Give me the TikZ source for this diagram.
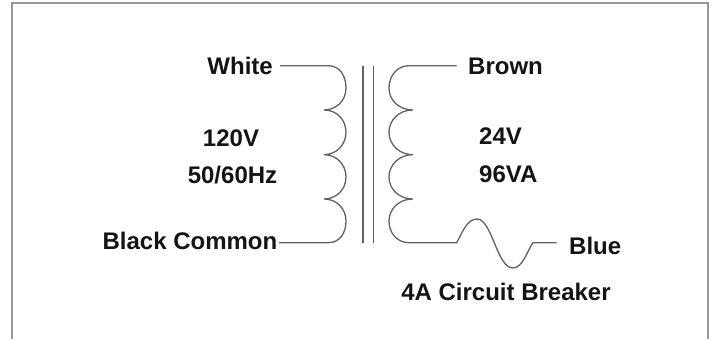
\documentclass[tikz,border=0pt]{standalone}
\usepackage{fontspec}
\setmainfont{Liberation Sans}
\usepackage{tikz}
\usetikzlibrary{positioning}
\definecolor{wireGray}{gray}{0.38}
\definecolor{frameGray}{gray}{0.6}
\definecolor{textBlack}{gray}{0.08}

\begin{document}
\begin{tikzpicture}[x=1pt,y=-1pt]
            \tikzstyle{label}=[inner sep=0pt,text=textBlack,font=\fontsize{24}{28}\selectfont\bfseries]
            \tikzstyle{wire}=[wireGray,line width=1.3pt]
            \useasboundingbox (0,0) rectangle (712,339);

            % frame, open at the bottom
            \draw[frameGray, line width=2pt] (12,339) -- (12,3.5) -- (708,3.5) -- (708,339);

            \node[label, anchor=east] (white)  at (273,65.7) {White};
            \node[label, anchor=east] (black)  at (277.5,241) {Black Common};
            \node[label]              (v120)   at (231,138.5) {120V};
            \node[label]              (hz)     at (232.5,175) {50/60Hz};
            \node[label, anchor=west] (brown)  at (468,66.5)  {Brown};
            \node[label, anchor=west] (v24)    at (479,136)   {24V};
            \node[label, anchor=west] (va96)   at (479,174.7) {96VA};
            \node[label, anchor=west] (blue)   at (569,246)   {Blue};
            \node[label]              (break)  at (506,292)   {4A Circuit Breaker};

            \coordinate (coreTop1) at (363,65.7);
            \coordinate (coreBot1) at (363,242.7);
            \coordinate (coreTop2) at (373.7,65.7);
            \coordinate (coreBot2) at (373.7,242.7);
            \coordinate (wireBlue) at (556.7,242.7);
            \coordinate (wireBrown) at (456.7,65.7);

            % core
            \draw[wire] (coreTop1) -- (coreBot1);
            \draw[wire] (coreTop2) -- (coreBot2);

            % primary
            \draw[wire] ([xshift=7pt]white.east |- coreTop1) -- (328,65.7)
                .. controls (340,65.7) and (346,76) .. (346,88)
                .. controls (346,101) and (336,110) .. (324,110)
                .. controls (337,110) and (346,120) .. (346,132.4)
                .. controls (346,145) and (336,154.7) .. (324,154.7)
                .. controls (337,154.7) and (346,165) .. (346,177)
                .. controls (346,190) and (336,199) .. (324,199)
                .. controls (337,199) and (346,209) .. (346,221)
                .. controls (346,233) and (340,242.7) .. (328,242.7)
                -- ([xshift=1.5pt]black.east |- coreBot1);

            % secondary and breaker
            \draw[wire] (wireBrown) -- (409,65.7)
                .. controls (397,65.7) and (389,76) .. (389,88)
                .. controls (389,101) and (400,110) .. (412.7,110)
                .. controls (399,110) and (389,120) .. (389,132.4)
                .. controls (389,145) and (400,154.7) .. (412.7,154.7)
                .. controls (399,154.7) and (389,165) .. (389,177)
                .. controls (389,190) and (400,199) .. (412.7,199)
                .. controls (399,199) and (389,209) .. (389,221)
                .. controls (389,233) and (397,242.7) .. (409,242.7)
                -- (456.7,242.7)
                .. controls (462,233) and (467,219) .. (477,219)
                .. controls (492,219) and (497,268) .. (512.7,268)
                .. controls (523,268) and (527,251) .. (533,242.7)
                -- (wireBlue);
        \end{tikzpicture}
\end{document}
